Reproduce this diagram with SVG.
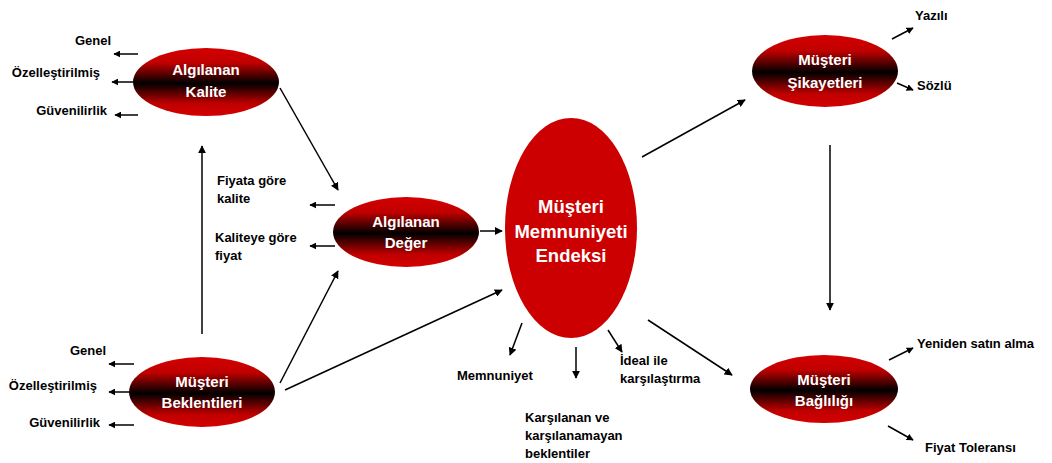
<svg xmlns="http://www.w3.org/2000/svg" width="1052" height="463" viewBox="0 0 1052 463">
<defs>
<linearGradient id="g" x1="0" y1="0" x2="0" y2="1">
<stop offset="0" stop-color="#d40000"/>
<stop offset="0.22" stop-color="#c00000"/>
<stop offset="0.52" stop-color="#000000"/>
<stop offset="0.82" stop-color="#c00000"/>
<stop offset="1" stop-color="#d40000"/>
</linearGradient>
<marker id="a" viewBox="0 0 10 10" refX="9" refY="5" markerWidth="7" markerHeight="7" orient="auto" markerUnits="userSpaceOnUse">
<path d="M0,0 L10,5 L0,10 Z" fill="#000"/>
</marker>
<marker id="a2" viewBox="0 0 10 10" refX="9" refY="5" markerWidth="8" markerHeight="8" orient="auto" markerUnits="userSpaceOnUse">
<path d="M0,0 L10,5 L0,10 Z" fill="#000"/>
</marker>
</defs>
<style>
.n{fill:url(#g)}
.t{font-family:"Liberation Sans",Arial,sans-serif;font-weight:bold;font-size:15px;fill:#fff;text-anchor:middle}
.l{font-family:"Liberation Sans",Arial,sans-serif;font-weight:bold;font-size:13px;fill:#000}
.r{text-anchor:end}
.c{stroke:#000;stroke-width:1.5;fill:none;marker-end:url(#a2)}
.s{stroke:#000;stroke-width:1.5;fill:none;marker-end:url(#a)}
</style>
<rect width="1052" height="463" fill="#fff"/>
<g id="connectors">
<line class="c" x1="280" y1="88" x2="338" y2="190"/>
<line class="c" x1="280" y1="383" x2="338" y2="271"/>
<line class="c" x1="285" y1="390" x2="502" y2="290"/>
<line class="c" x1="480" y1="231" x2="502" y2="231"/>
<line class="c" x1="202" y1="334" x2="202" y2="146"/>
<line class="c" x1="642" y1="157" x2="745" y2="100"/>
<line class="c" x1="830" y1="145" x2="830" y2="310"/>
<line class="c" x1="648" y1="320" x2="732" y2="375"/>
<line class="c" x1="522" y1="323" x2="510" y2="355"/>
<line class="c" x1="576" y1="347" x2="576" y2="378"/>
<line class="c" x1="608" y1="330" x2="622" y2="352"/>
<line class="s" x1="138" y1="54" x2="114" y2="54"/>
<line class="s" x1="138" y1="82" x2="112" y2="82"/>
<line class="s" x1="138" y1="115" x2="115" y2="115"/>
<line class="s" x1="134" y1="364" x2="109" y2="364"/>
<line class="s" x1="133" y1="392" x2="109" y2="392"/>
<line class="s" x1="134" y1="425" x2="109" y2="425"/>
<line class="s" x1="335" y1="205" x2="310" y2="205"/>
<line class="s" x1="335" y1="246" x2="310" y2="246"/>
<line class="s" x1="892" y1="39" x2="913" y2="28"/>
<line class="s" x1="897" y1="83" x2="913" y2="90"/>
<line class="s" x1="889" y1="360" x2="913" y2="348"/>
<line class="s" x1="888" y1="426" x2="913" y2="440"/>
</g>
<g id="algilanan-kalite">
<ellipse class="n" cx="206" cy="82" rx="73" ry="34"/>
<text class="t" x="206" y="75">Algılanan</text>
<text class="t" x="206" y="97">Kalite</text>
<text class="l r" x="111" y="45">Genel</text>
<text class="l r" x="100" y="77">Özelleştirilmiş</text>
<text class="l r" x="107" y="115">Güvenilirlik</text>
</g>
<g id="algilanan-deger">
<ellipse class="n" cx="406" cy="232" rx="73" ry="35"/>
<text class="t" x="406" y="227">Algılanan</text>
<text class="t" x="406" y="248">Değer</text>
<text class="l" x="217" y="185">Fiyata göre</text>
<text class="l" x="217" y="203">kalite</text>
<text class="l" x="215" y="242">Kaliteye göre</text>
<text class="l" x="215" y="260">fiyat</text>
</g>
<g id="musteri-beklentileri">
<ellipse class="n" cx="202" cy="392" rx="73" ry="35"/>
<text class="t" x="202" y="387">Müşteri</text>
<text class="t" x="202" y="408">Beklentileri</text>
<text class="l r" x="106" y="355">Genel</text>
<text class="l r" x="97" y="390">Özelleştirilmiş</text>
<text class="l r" x="100" y="427">Güvenilirlik</text>
</g>
<g id="mme">
<ellipse cx="571" cy="228" rx="66" ry="110" fill="#cc0000"/>
<text class="t" x="571" y="213" style="font-size:18.5px">Müşteri</text>
<text class="t" x="571" y="238" style="font-size:18.5px">Memnuniyeti</text>
<text class="t" x="571" y="262" style="font-size:18.5px">Endeksi</text>
<text class="l" x="457" y="380">Memnuniyet</text>
<text class="l" x="620" y="365">İdeal ile</text>
<text class="l" x="620" y="383">karşılaştırma</text>
<text class="l" x="525" y="422">Karşılanan ve</text>
<text class="l" x="525" y="440">karşılanamayan</text>
<text class="l" x="525" y="458">beklentiler</text>
</g>
<g id="musteri-sikayetleri">
<ellipse class="n" cx="825" cy="71" rx="73" ry="36"/>
<text class="t" x="825" y="65">Müşteri</text>
<text class="t" x="825" y="88">Şikayetleri</text>
<text class="l" x="915" y="20">Yazılı</text>
<text class="l" x="917" y="90">Sözlü</text>
</g>
<g id="musteri-bagliligi">
<ellipse class="n" cx="824" cy="389" rx="74" ry="34"/>
<text class="t" x="824" y="385">Müşteri</text>
<text class="t" x="824" y="406">Bağlılığı</text>
<text class="l" x="917" y="348">Yeniden satın alma</text>
<text class="l" x="925" y="452">Fiyat Toleransı</text>
</g>
</svg>
